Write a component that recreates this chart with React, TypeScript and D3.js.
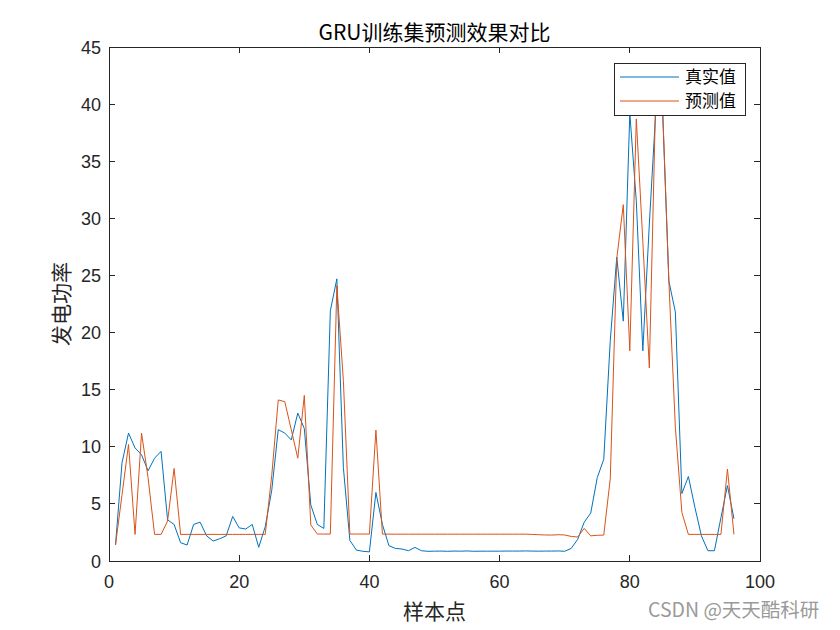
import React from "react";
import * as d3 from "d3";

const trueValues: number[] = [
  1.4, 8.6, 11.2, 9.9, 9.3, 7.9, 9.0, 9.6, 3.6, 3.2,
  1.6, 1.4, 3.2, 3.4, 2.2, 1.75, 1.95, 2.2, 3.9, 2.9,
  2.8, 3.2, 1.2, 3.0, 6.2, 11.5, 11.2, 10.6, 12.95, 11.6,
  4.9, 3.2, 2.85, 21.9, 24.7, 8.2, 1.8, 0.96, 0.85, 0.8,
  6.0, 3.2, 1.34, 1.1, 1.05, 0.9, 1.19, 0.9, 0.85, 0.86,
  0.87, 0.85, 0.87, 0.86, 0.88, 0.85, 0.86, 0.86, 0.86, 0.86,
  0.87, 0.87, 0.87, 0.88, 0.87, 0.86, 0.87, 0.87, 0.88, 0.85,
  1.1, 1.9, 3.4, 4.2, 7.3, 8.9, 19.3, 26.6, 21.0, 39.2,
  31.5, 18.4, 29.5, 39.5, 40.0, 24.5, 21.8, 5.9, 7.4, 4.7,
  2.2, 0.9, 0.9, 3.8, 6.6, 3.7,
];

const predValues: number[] = [
  1.4, 5.8, 10.2, 2.33, 11.2, 7.3, 2.33, 2.33, 3.5, 8.1,
  2.33, 2.33, 2.33, 2.33, 2.33, 2.33, 2.33, 2.33, 2.33, 2.33,
  2.33, 2.33, 2.33, 2.33, 7.5, 14.1, 13.95, 11.5, 9.0, 14.5,
  3.15, 2.36, 2.36, 2.36, 24.1, 15.8, 2.36, 2.36, 2.36, 2.36,
  11.46, 2.36, 2.35, 2.35, 2.35, 2.35, 2.35, 2.35, 2.35, 2.35,
  2.35, 2.35, 2.35, 2.35, 2.35, 2.35, 2.35, 2.35, 2.35, 2.35,
  2.35, 2.35, 2.35, 2.35, 2.33, 2.3, 2.28, 2.27, 2.3, 2.28,
  2.15, 2.1, 2.85, 2.2, 2.25, 2.27, 7.2, 26.5, 31.2, 18.4,
  38.7, 28.0, 16.9, 41.0, 40.3, 24.5, 11.7, 4.25, 2.33, 2.33,
  2.33, 2.33, 2.33, 2.33, 8.05, 2.33,
];

const xTicks: number[] = [0, 20, 40, 60, 80, 100];
const yTicks: number[] = [0, 5, 10, 15, 20, 25, 30, 35, 40, 45];
const seriesNames: string[] = ["真实值", "预测值"];
const titleText = "GRU训练集预测效果对比";
const xLabelText = "样本点";
const yLabelText = "发电功率";
const watermarkText = "CSDN @天天酷科研";

const W = 840;
const H = 630;
const M = { left: 109, right: 760, top: 47, bottom: 561 };
const BLUE = "#0072BD";
const ORANGE = "#D95319";
const AXIS = "#262626";
const LATIN = "'Liberation Sans', Arial, Helvetica, sans-serif";
const CJK = "'Noto Sans CJK SC', 'Liberation Sans', sans-serif";

export default function App() {
  const x = d3.scaleLinear().domain([0, 100]).range([M.left, M.right]);
  const y = d3.scaleLinear().domain([0, 45]).range([M.bottom, M.top]);
  const line = d3
    .line<number>()
    .x((_, i) => x(i + 1))
    .y((d) => y(d));
  const tickLen = 6;
  const legend = { x: 614, y: 63, w: 131, h: 52 };
  const colors = [BLUE, ORANGE];

  return (
    <svg
      width={W}
      height={H}
      style={{ position: "absolute", left: 0, top: 0, background: "#fff" }}
    >
      <rect x={0} y={0} width={W} height={H} fill="#fff" />
      <defs>
        <clipPath id="clip">
          <rect x={M.left} y={M.top} width={M.right - M.left} height={M.bottom - M.top} />
        </clipPath>
      </defs>
      <g clipPath="url(#clip)">
        <path d={line(trueValues) || ""} fill="none" stroke={BLUE} strokeWidth={1} />
        <path d={line(predValues) || ""} fill="none" stroke={ORANGE} strokeWidth={1} />
      </g>
      <rect
        x={M.left}
        y={M.top}
        width={M.right - M.left}
        height={M.bottom - M.top}
        fill="none"
        stroke={AXIS}
        strokeWidth={1}
        shapeRendering="crispEdges"
      />
      {xTicks.map((t) => (
        <g key={"x" + t}>
          <line x1={x(t)} x2={x(t)} y1={M.bottom} y2={M.bottom - tickLen} stroke={AXIS} shapeRendering="crispEdges" />
          <line x1={x(t)} x2={x(t)} y1={M.top} y2={M.top + tickLen} stroke={AXIS} shapeRendering="crispEdges" />
          <text
            x={x(t)}
            y={M.bottom + 27}
            textAnchor="middle"
            fontFamily={LATIN}
            fontSize={18}
            fill={AXIS}
          >
            {t}
          </text>
        </g>
      ))}
      {yTicks.map((t) => (
        <g key={"y" + t}>
          <line x1={M.left} x2={M.left + tickLen} y1={y(t)} y2={y(t)} stroke={AXIS} shapeRendering="crispEdges" />
          <line x1={M.right} x2={M.right - tickLen} y1={y(t)} y2={y(t)} stroke={AXIS} shapeRendering="crispEdges" />
          <text
            x={M.left - 8}
            y={y(t) + 6.5}
            textAnchor="end"
            fontFamily={LATIN}
            fontSize={18}
            fill={AXIS}
          >
            {t}
          </text>
        </g>
      ))}
      <text
        x={(M.left + M.right) / 2}
        y={40}
        textAnchor="middle"
        fontFamily={CJK}
        fontSize={21}
        fill="#000"
      >
        {titleText}
      </text>
      <text
        x={(M.left + M.right) / 2}
        y={619}
        textAnchor="middle"
        fontFamily={CJK}
        fontSize={21}
        fill={AXIS}
      >
        {xLabelText}
      </text>
      <text
        transform={`translate(69, ${(M.top + M.bottom) / 2}) rotate(-90)`}
        textAnchor="middle"
        fontFamily={CJK}
        fontSize={21}
        fill={AXIS}
      >
        {yLabelText}
      </text>
      <rect x={legend.x} y={legend.y} width={legend.w} height={legend.h} fill="#fff" stroke={AXIS} strokeWidth={1} shapeRendering="crispEdges" />
      {seriesNames.map((name, i) => {
        const ly = legend.y + 14 + i * 24;
        return (
          <g key={name}>
            <line x1={legend.x + 6} x2={legend.x + 65} y1={ly} y2={ly} stroke={colors[i]} strokeWidth={1} />
            <text x={legend.x + 71} y={ly + 6} fontFamily={CJK} fontSize={17} fill="#000">
              {name}
            </text>
          </g>
        );
      })}
      <text x={648} y={617} fontFamily={CJK} fontSize={19.5} fill="#9a9a9a">
        {watermarkText}
      </text>
    </svg>
  );
}
